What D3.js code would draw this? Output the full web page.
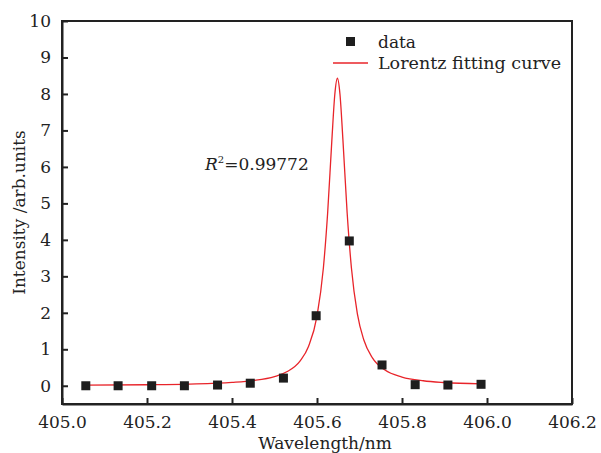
<!DOCTYPE html>
<html>
<head>
<meta charset="utf-8">
<script src="https://cdn.jsdelivr.net/npm/d3@7"></script>
<style>
body{margin:0;background:#fff;}
svg{display:block;font-family:"DejaVu Serif",serif;}
</style>
</head>
<body>
<script>
// measured points
let waveData=[405.056,405.132,405.211,405.288,405.366,405.443,405.521,405.598,405.676,405.753,405.831,405.908,405.986];
let intData=[0.0,0.0,0.0,0.0,0.02,0.07,0.21,1.92,3.97,0.57,0.03,0.02,0.04];
// fitted curve
let fitX=[405.056,405.2,405.3,405.4,405.45,405.5,405.53,405.56,405.58,405.6,405.615,405.625,405.635,405.642,405.648,405.654,405.661,405.671,405.681,405.695,405.71,405.73,405.76,405.8,405.85,405.9,405.986];
let fitY=[0.016,0.028,0.047,0.092,0.143,0.252,0.39,0.677,1.075,1.91,3.23,4.73,6.74,8.0,8.43,8.0,6.74,4.73,3.23,1.97,1.26,0.77,0.43,0.24,0.137,0.089,0.05];
let xTicks=[405.0,405.2,405.4,405.6,405.8,406.0,406.2];
let yTicks=[0,1,2,3,4,5,6,7,8,9,10];

let w=601,h=453;
let padL=62,padR=572,padT=21,padB=404;

let svg=d3.select("body").append("svg").attr("width",w).attr("height",h);

let xScale=d3.scaleLinear().domain([405.0,406.2]).range([padL,padR]);
let yScale=d3.scaleLinear().domain([-0.5,10]).range([padB,padT]);

// frame
svg.append("rect").attr("x",padL).attr("y",padT).attr("width",padR-padL).attr("height",padB-padT)
  .attr("fill","none").attr("stroke","#222").attr("stroke-width",2);

let xAxis=d3.axisBottom(xScale).tickValues(xTicks).tickFormat(d3.format(".1f")).tickSizeInner(-6).tickSizeOuter(0).tickPadding(12);
let yAxis=d3.axisLeft(yScale).tickValues(yTicks).tickFormat(d3.format("d")).tickSizeInner(-6).tickSizeOuter(0).tickPadding(11);

let gx=svg.append("g").attr("transform","translate(0,"+padB+")").call(xAxis);
let gy=svg.append("g").attr("transform","translate("+padL+",0)").call(yAxis);
[gx,gy].forEach(g=>{
  g.select(".domain").attr("stroke","#222").attr("stroke-width",2);
  g.selectAll(".tick line").attr("stroke","#222").attr("stroke-width",2);
  g.selectAll(".tick text").attr("fill","#222").style("font","17px 'DejaVu Serif'");
});

// axis titles
svg.append("text").attr("x",(padL+padR)/2+8).attr("y",449).attr("text-anchor","middle")
  .attr("fill","#222").style("font","17px 'DejaVu Serif'").text("Wavelength/nm");
svg.append("text").attr("transform","translate(25,"+((padT+padB)/2)+") rotate(-90)").attr("text-anchor","middle")
  .attr("fill","#222").style("font","17px 'DejaVu Serif'").text("Intensity /arb.units");

// fitting curve
let fit=fitX.map((x,i)=>[x,fitY[i]]);
let line=d3.line().x(d=>xScale(d[0])).y(d=>yScale(d[1])).curve(d3.curveMonotoneX);
svg.append("path").datum(fit).attr("d",line).attr("fill","none").attr("stroke","#e8242a").attr("stroke-width",1.3);

// data squares
let pts=waveData.map((x,i)=>[x,intData[i]]);
let sz=9;
svg.selectAll("rect.pt").data(pts).enter().append("rect").attr("class","pt")
  .attr("x",d=>xScale(d[0])-sz/2).attr("y",d=>yScale(d[1])-sz/2)
  .attr("width",sz).attr("height",sz).attr("fill","#1e1e1e");

// legend
svg.append("rect").attr("x",346).attr("y",37).attr("width",sz).attr("height",sz).attr("fill","#1e1e1e");
svg.append("text").attr("x",378).attr("y",48).attr("fill","#222").style("font","17px 'DejaVu Serif'").text("data");
svg.append("line").attr("x1",333).attr("x2",368).attr("y1",63).attr("y2",63).attr("stroke","#e8242a").attr("stroke-width",1.3);
svg.append("text").attr("x",378).attr("y",69).attr("fill","#222").style("font","17.5px 'DejaVu Serif'").text("Lorentz fitting curve");

// R^2 annotation
let ann=svg.append("text").attr("x",205).attr("y",170).attr("fill","#222").style("font","17px 'DejaVu Serif'");
ann.append("tspan").style("font-style","italic").text("R");
ann.append("tspan").attr("dy",-7).style("font-size","10px").text("2");
ann.append("tspan").attr("dy",7).text("=0.99772");
</script>
</body>
</html>
